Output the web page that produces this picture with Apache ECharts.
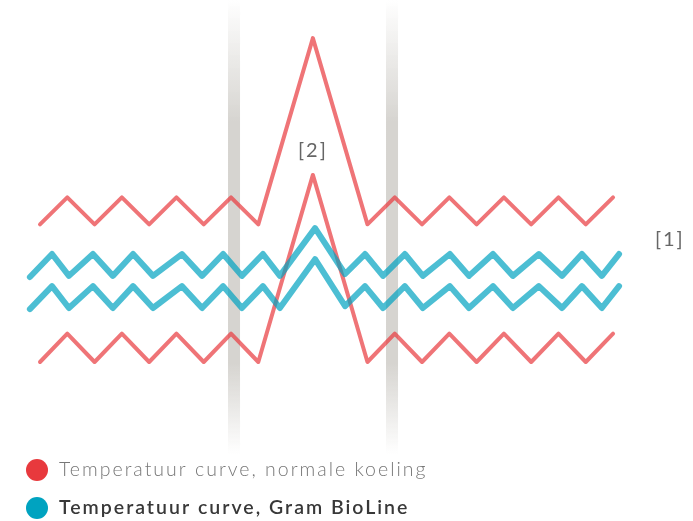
<!DOCTYPE html>
<html>
<head>
<meta charset="utf-8">
<script src="https://cdn.jsdelivr.net/npm/echarts@6/dist/echarts.min.js"></script>
<style>html,body{margin:0;padding:0;background:#fff}#c{width:693px;height:521px}</style>
</head>
<body>
<div id="c"></div>
<script>
// ---- data (time units on x, temperature units on y) ----
const seriesNames = ['Temperatuur curve, normale koeling', 'Temperatuur curve, Gram BioLine'];

const redX = [0,1,2,3,4,5,6,7,8,10,12,13,14,15,16,17,18,19,20,21];
const redUpperY = [5.1,6.1,5.1,6.1,5.1,6.1,5.1,6.1,5.1,12,5.1,6.1,5.1,6.1,5.1,6.1,5.1,6.1,5.1,6.1];
const redLowerY = [0,1.05,0,1.05,0,1.05,0,1.05,0,6.93,0,1.05,0,1.05,0,1.05,0,1.05,0,1.05];

const tealX = [-0.37,0.44,1.06,1.94,2.67,3.41,4.14,5.20,5.94,6.71,7.40,8.17,8.79,10.08,11.18,11.91,12.57,13.37,14.03,15.02,15.72,16.60,17.33,18.28,19.13,19.86,20.59,21.22];
const tealUpperY = [3.15,4.0,3.19,4.0,3.19,4.0,3.19,4.0,3.19,4.0,3.19,4.0,3.19,4.96,3.26,4.0,3.19,4.0,3.19,4.0,3.19,4.0,3.19,4.0,3.19,4.0,3.19,4.0];
const tealLowerY = [1.96,2.81,2.0,2.81,2.0,2.81,2.0,2.81,2.0,2.81,2.0,2.81,2.0,3.81,2.07,2.81,2.0,2.81,2.0,2.81,2.0,2.81,2.0,2.81,2.0,2.81,2.0,2.81];

const bands = [[6.89, 7.33], [12.68, 13.12]];
const annotations = [{text: '[2]', x: 10, y: 7.85}, {text: '[1]', x: 23.08, y: 4.52}];

// letter-spaced Lato text (the reference typography uses tracking)
(function () {
  const proto = CanvasRenderingContext2D.prototype;
  const orig = proto.fillText;
  proto.fillText = function () {
    if ('letterSpacing' in this && /Lato/.test(this.font)) {
      const prev = this.letterSpacing;
      this.letterSpacing = '2px';
      const r = orig.apply(this, arguments);
      this.letterSpacing = prev;
      return r;
    }
    return orig.apply(this, arguments);
  };
})();

// ---- chart ----
const RED = '#e8393d', TEAL = '#00a3c0';
const X_MIN = -1.466, X_MAX = 23.93, Y_MIN = -5.89, Y_MAX = 13.41;
const zip = (xs, ys) => xs.map((x, i) => [x, ys[i]]);

const bandGradient = new echarts.graphic.LinearGradient(0, 0, 0, 1, [
  {offset: 0, color: 'rgba(214,212,208,0)'},
  {offset: 0.27, color: 'rgba(214,212,208,1)'},
  {offset: 0.8, color: 'rgba(214,212,208,1)'},
  {offset: 1, color: 'rgba(214,212,208,0)'}
]);

function lineSeries(name, color, rgba, width, data, z) {
  return {
    name, type: 'line', data, showSymbol: false, symbol: 'none', clip: false, z,
    itemStyle: {color},
    lineStyle: {color: rgba, width, cap: 'round', join: 'round'},
    emphasis: {disabled: true}, silent: true, animation: false
  };
}

const option = {
  animation: false,
  grid: {left: 0, right: 0, top: 0, bottom: 0},
  xAxis: {type: 'value', min: X_MIN, max: X_MAX, show: false},
  yAxis: {type: 'value', min: Y_MIN, max: Y_MAX, show: false},
  legend: {
    orient: 'vertical', left: 26, top: 459, padding: 0,
    itemWidth: 34, itemHeight: 22, itemGap: 16, icon: 'circle',
    selectedMode: false,
    data: [
      {name: seriesNames[0], textStyle: {color: '#777', fontWeight: 300, fontSize: 19.5, fontFamily: 'Lato'}},
      {name: seriesNames[1], textStyle: {color: '#383838', fontWeight: 600, fontSize: 19.5, fontFamily: 'Lato'}}
    ]
  },
  series: [
    {
      type: 'line', data: [], silent: true, z: 1,
      markArea: {
        silent: true,
        itemStyle: {color: bandGradient},
        data: bands.map(b => [{xAxis: b[0], yAxis: Y_MAX}, {xAxis: b[1], yAxis: -3.4}])
      },
      markPoint: {
        symbol: 'rect', symbolSize: 1, itemStyle: {color: 'rgba(0,0,0,0)'},
        label: {show: true, position: 'inside', fontFamily: 'Lato', fontWeight: 400, fontSize: 20, color: '#666'},
        data: annotations.map(a => ({coord: [a.x, a.y], value: a.text, label: {formatter: a.text}}))
      }
    },
    lineSeries(seriesNames[0], RED, 'rgba(232,57,61,0.7)', 4, zip(redX, redUpperY), 3),
    lineSeries(seriesNames[0], RED, 'rgba(232,57,61,0.7)', 4, zip(redX, redLowerY), 3),
    lineSeries(seriesNames[1], TEAL, 'rgba(0,163,192,0.7)', 6, zip(tealX, tealUpperY), 4),
    lineSeries(seriesNames[1], TEAL, 'rgba(0,163,192,0.7)', 6, zip(tealX, tealLowerY), 4)
  ]
};

const chart = echarts.init(document.getElementById('c'), null, {renderer: 'canvas'});
chart.setOption(option);
</script>
</body>
</html>
